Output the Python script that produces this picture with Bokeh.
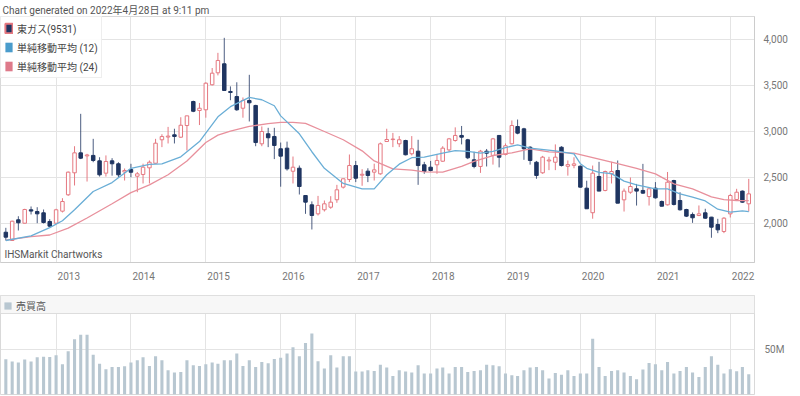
import pandas as pd
from datetime import datetime, timedelta
from bokeh.plotting import figure
from bokeh.layouts import column
from bokeh.models import (ColumnDataSource, Range1d, FixedTicker, NumeralTickFormatter,
                          DatetimeTickFormatter, Legend, LegendItem, Label, BoxAnnotation,
                          PrintfTickFormatter)
from bokeh.embed import file_html
from bokeh.resources import INLINE

# ---------------- data (monthly, May 2012 - Apr 2022) ----------------
first_month = "2012-05-01"

opens = [
    1905, 1815, 2040, 2003, 2149, 2130, 2116, 2022, 2003, 2134,
    2312, 2551, 2768, 2735, 2740, 2681, 2547, 2681, 2649, 2560,
    2587, 2514, 2533, 2605, 2655, 2910, 2940, 2964, 2938, 3065,
    3326, 3228, 3236, 3508, 3638, 3736, 3435, 3380, 3253, 3337,
    3283, 2866, 2975, 2946, 2812, 2819, 2568, 2601, 2304, 2203,
    2105, 2149, 2177, 2258, 2395, 2478, 2630, 2525, 2569, 2558,
    2540, 2891, 2912, 2866, 2902, 2758, 2786, 2638, 2612, 2638,
    2677, 2800, 2902, 2957, 2910, 2692, 2620, 2786, 2740, 2957,
    2750, 2866, 3054, 3029, 2829, 2666, 2551, 2680, 2666, 2829,
    2622, 2632, 2623, 2384, 2117, 2511, 2359, 2540, 2576, 2257,
    2340, 2377, 2359, 2293, 2384, 2239, 2203, 2467, 2250, 2152,
    2098, 2087, 2116, 2069, 1989, 1913, 2105, 2261, 2352, 2214]

highs = [
    1953, 2030, 2079, 2160, 2185, 2177, 2152, 2047, 2160, 2275,
    2565, 2840, 3192, 2757, 2920, 2720, 2740, 2710, 2666, 2598,
    2649, 2560, 2650, 2685, 2920, 2970, 3050, 3030, 3155, 3170,
    3335, 3310, 3535, 3690, 3855, 4018, 3490, 3535, 3370, 3616,
    3290, 3055, 3040, 3040, 2880, 2890, 2728, 2630, 2304, 2240,
    2300, 2250, 2297, 2420, 2490, 2750, 2680, 2590, 2600, 2650,
    2880, 3030, 2985, 2950, 2910, 2950, 2910, 2670, 2680, 2750,
    2840, 2930, 3045, 3060, 2920, 2780, 2800, 2810, 2930, 2960,
    2870, 3120, 3130, 3040, 2840, 2680, 2735, 2725, 2860, 2840,
    2685, 2720, 2630, 2465, 2630, 2670, 2575, 2670, 2685, 2380,
    2500, 2430, 2648, 2380, 2450, 2250, 2560, 2475, 2340, 2160,
    2120, 2196, 2160, 2072, 2051, 2069, 2322, 2377, 2359, 2485]

lows = [
    1815, 1810, 1924, 2000, 2098, 2003, 2000, 1960, 2000, 2120,
    2300, 2413, 2700, 2456, 2666, 2510, 2510, 2520, 2500, 2467,
    2503, 2340, 2435, 2435, 2650, 2830, 2870, 2870, 2930, 2793,
    3210, 3070, 3150, 3500, 3610, 3446, 3340, 3225, 3150, 3109,
    2840, 2840, 2830, 2700, 2400, 2575, 2435, 2315, 2105, 1935,
    2087, 2130, 2160, 2225, 2380, 2450, 2450, 2410, 2450, 2467,
    2530, 2890, 2830, 2830, 2740, 2740, 2420, 2540, 2565, 2540,
    2670, 2780, 2890, 2860, 2700, 2600, 2550, 2620, 2640, 2610,
    2740, 2860, 2970, 2692, 2640, 2486, 2540, 2580, 2580, 2620,
    2520, 2600, 2390, 2160, 2052, 2352, 2350, 2435, 2221, 2130,
    2323, 2195, 2323, 2195, 2270, 2185, 2196, 2196, 2140, 2070,
    2007, 2080, 2050, 1845, 1895, 1895, 2065, 2250, 2225, 2130]

closes = [
    1851, 2025, 2008, 2152, 2135, 2105, 2011, 1971, 2149, 2239,
    2558, 2768, 2710, 2745, 2685, 2529, 2674, 2649, 2529, 2576,
    2557, 2540, 2612, 2666, 2873, 2945, 2950, 2946, 3068, 3170,
    3220, 3253, 3525, 3634, 3772, 3446, 3424, 3236, 3337, 3312,
    2880, 3000, 2932, 2848, 2732, 2594, 2612, 2402, 2232, 2087,
    2196, 2214, 2232, 2366, 2486, 2630, 2492, 2535, 2522, 2583,
    2866, 2913, 2918, 2910, 2747, 2812, 2630, 2565, 2576, 2685,
    2819, 2920, 2957, 2938, 2714, 2620, 2786, 2764, 2920, 2720,
    2845, 3065, 2982, 2812, 2685, 2522, 2721, 2690, 2721, 2630,
    2640, 2648, 2395, 2160, 2547, 2352, 2565, 2565, 2221, 2352,
    2402, 2352, 2330, 2377, 2279, 2188, 2449, 2207, 2149, 2080,
    2062, 2105, 2058, 1960, 1931, 2058, 2304, 2340, 2232, 2322]

# trading volume, millions of shares
volumes = [
    39.3, 36.7, 35.6, 38.9, 36.7, 41.5, 42.2, 41.9, 43.7, 33.7,
    48.1, 61.5, 66.7, 66.7, 44.4, 34.4, 28.1, 30.7, 30.7, 31.5,
    35.6, 38.1, 41.5, 31.9, 42.6, 38.1, 27.0, 24.4, 25.2, 38.1,
    32.6, 31.9, 33.7, 35.6, 34.4, 38.1, 38.1, 45.6, 31.9, 38.1,
    30.7, 36.3, 34.8, 39.6, 41.1, 45.6, 52.6, 42.6, 57.4, 68.1,
    37.0, 28.9, 43.7, 30.0, 42.6, 42.6, 25.6, 25.6, 27.0, 26.3,
    33.3, 30.0, 20.7, 27.0, 25.6, 24.4, 32.6, 23.3, 23.3, 28.9,
    30.0, 23.3, 30.7, 30.7, 25.2, 26.3, 27.0, 33.3, 32.6, 31.5,
    23.3, 21.5, 20.7, 27.0, 30.0, 30.7, 27.0, 17.8, 24.1, 21.9,
    27.0, 20.7, 23.3, 23.3, 62.2, 30.7, 20.7, 26.3, 27.0, 24.4,
    20.7, 17.0, 27.8, 35.2, 33.7, 27.0, 36.3, 23.3, 26.3, 30.7,
    24.4, 19.6, 30.7, 42.6, 33.3, 23.3, 28.1, 25.9, 30.7, 22.6]

# simple moving averages
sma12_months = ["2012-05", "2012-09", "2012-12", "2013-02", "2013-04", "2013-07", "2013-10",
                "2014-01", "2014-04", "2014-06", "2014-09", "2014-12", "2015-03", "2015-05",
                "2015-08", "2015-10", "2015-12", "2016-01", "2016-04", "2016-06", "2016-08",
                "2016-11", "2017-02", "2017-04", "2017-06", "2017-08", "2017-10", "2017-12",
                "2018-03", "2018-05", "2018-07", "2018-09", "2018-11", "2019-01", "2019-03",
                "2019-05", "2019-09", "2019-12", "2020-01", "2020-02", "2020-04", "2020-06",
                "2020-08", "2020-10", "2021-01", "2021-03", "2021-05", "2021-07", "2021-09",
                "2021-11", "2022-01", "2022-03", "2022-04"]
sma12_values = [1815, 1865, 1955, 2030, 2150, 2348, 2445,
                2600, 2643, 2649, 2725, 2890, 3160, 3270,
                3370, 3345, 3280, 3170, 2975, 2780, 2600,
                2435, 2377, 2377, 2530, 2645, 2715, 2721,
                2765, 2792, 2783, 2764, 2785, 2825, 2855,
                2820, 2790, 2757, 2650, 2600, 2555, 2542,
                2460, 2420, 2377, 2377, 2323, 2286, 2245,
                2155, 2123, 2138, 2130]

sma24_months = ["2012-05", "2012-09", "2012-12", "2013-03", "2013-06", "2013-10", "2014-01",
                "2014-04", "2014-07", "2014-10", "2015-01", "2015-03", "2015-05", "2015-08",
                "2015-11", "2016-01", "2016-03", "2016-05", "2016-08", "2016-11", "2017-02",
                "2017-04", "2017-07", "2017-10", "2017-12", "2018-03", "2018-06", "2018-08",
                "2018-11", "2019-02", "2019-05", "2019-08", "2019-12", "2020-04", "2020-07",
                "2020-10", "2021-01", "2021-04", "2021-07", "2021-10", "2021-12", "2022-02",
                "2022-04"]
sma24_values = [1820, 1858, 1875, 1950, 2060, 2215, 2335,
                2420, 2530, 2680, 2880, 2960, 3005, 3055,
                3085, 3100, 3100, 3088, 3000, 2910, 2790,
                2680, 2594, 2580, 2560, 2558, 2620, 2675,
                2739, 2768, 2810, 2778, 2765, 2700, 2650,
                2600, 2540, 2430, 2377, 2290, 2260, 2250,
                2248]

price_ticks = [2000, 2500, 3000, 3500, 4000]
year_labels = [2013, 2014, 2015, 2016, 2017, 2018, 2019, 2020, 2021, 2022]
volume_ticks = [50]

# ---------------- styling ----------------
FONT = "Roboto, 'Noto Sans CJK JP', sans-serif"
UP = "#e57880"
DOWN = "#1f3561"
BLUE = "#6aaed6"
PINK = "#e8909c"
VOLC = "#b8c7d1"
GRID = "#e4e4e4"
FRAME = "#d9d9d9"
FS = "10px"
DAY_MS = 24 * 3600 * 1000

months = pd.date_range(first_month, periods=len(closes), freq="MS")
df = pd.DataFrame(dict(date=months, open=opens, high=highs, low=lows, close=closes, vol=volumes))
df["top"] = df[["open", "close"]].max(axis=1)
df["bottom"] = df[["open", "close"]].min(axis=1)
all_src = ColumnDataSource(df)
up_src = ColumnDataSource(df[df.close >= df.open])
dn_src = ColumnDataSource(df[df.close < df.open])


def ms(ts):
    return pd.Timestamp(ts).value // 10**6


year_ms = [ms(datetime(y, 1, 1)) for y in year_labels]
label_ms = [ms(datetime(y, 1, 1) + timedelta(days=62)) for y in year_labels]

xr = Range1d(start=datetime(2012, 4, 5), end=datetime(2022, 4, 29))

# ---------------- main price panel ----------------
p = figure(frame_width=754, frame_height=246, x_axis_type="datetime", y_axis_location="right",
           x_range=xr, y_range=Range1d(1576, 4250), output_backend="svg", toolbar_location=None,
           min_border_left=0, min_border_right=46, min_border_top=16, min_border_bottom=33)
p.title.text = "Chart generated on 2022年4月28日 at 9:11 pm"
p.title.align = "left"
p.title.text_font = FONT
p.title.text_font_size = FS
p.title.text_font_style = "normal"
p.title.text_color = "#555555"
p.title.standoff = 2
p.title.offset = 2
p.outline_line_color = FRAME
p.background_fill_color = "white"
p.border_fill_color = "white"

p.xgrid.ticker = FixedTicker(ticks=year_ms)
p.ygrid.ticker = FixedTicker(ticks=price_ticks)
p.grid.grid_line_color = GRID

p.xaxis.ticker = FixedTicker(ticks=label_ms)
p.xaxis.formatter = DatetimeTickFormatter(years="%Y", months="%Y", days="%Y", hours="%Y")
p.yaxis.ticker = FixedTicker(ticks=price_ticks)
p.yaxis.formatter = NumeralTickFormatter(format="0,0")
for ax in (p.xaxis[0], p.yaxis[0]):
    ax.major_tick_line_color = None
    ax.minor_tick_line_color = None
    ax.axis_line_color = "#cccccc"
    ax.major_label_text_font = FONT
    ax.major_label_text_font_size = FS
    ax.major_label_text_color = "#777777"
p.xaxis.major_label_standoff = 3
p.yaxis.major_label_standoff = 3

bw = 17 * DAY_MS
p.segment(x0="date", y0="high", x1="date", y1="low", source=up_src, line_color=UP, line_width=1)
p.segment(x0="date", y0="high", x1="date", y1="low", source=dn_src, line_color=DOWN, line_width=1,
          line_alpha=0.8)
p.vbar(x="date", width=bw, top="top", bottom="bottom", source=up_src, fill_color="white",
       line_color=UP, line_width=1)
p.vbar(x="date", width=bw, top="top", bottom="bottom", source=dn_src, fill_color=DOWN,
       line_color=DOWN, line_width=1)

p.line(pd.to_datetime(sma24_months), sma24_values, line_color=PINK, line_width=1.3)
p.line(pd.to_datetime(sma12_months), sma12_values, line_color=BLUE, line_width=1.3)

# zero-size glyphs that only supply square legend icons
icon_stock = p.rect(x="date", y="close", width=0, height=0, source=all_src, fill_color=DOWN,
                    line_color=UP, line_width=2)
icon_12 = p.rect(x="date", y="close", width=0, height=0, source=all_src, fill_color="#4a9ccc",
                 line_color=None)
icon_24 = p.rect(x="date", y="close", width=0, height=0, source=all_src, fill_color="#de7a8a",
                 line_color=None)

legend = Legend(items=[LegendItem(label="東ガス(9531)", renderers=[icon_stock]),
                       LegendItem(label="単純移動平均 (12)", renderers=[icon_12]),
                       LegendItem(label="単純移動平均 (24)", renderers=[icon_24])],
                location="top_left", margin=0, padding=3, spacing=3,
                glyph_width=9, glyph_height=12, label_height=16, label_standoff=4,
                label_text_font=FONT, label_text_font_size=FS, label_text_color="#444444",
                background_fill_color="white", background_fill_alpha=0.9,
                border_line_color="#dddddd")
p.add_layout(legend)

p.add_layout(Label(x=4, y=3, x_units="screen", y_units="screen", text="IHSMarkit Chartworks",
                   text_font=FONT, text_font_size=FS, text_color="#555555",
                   text_baseline="bottom"))

# ---------------- volume panel ----------------
v = figure(frame_width=754, frame_height=99, x_axis_type="datetime", x_axis_location=None,
           y_axis_location="right", x_range=xr, y_range=Range1d(0, 110.4),
           output_backend="svg", toolbar_location=None,
           min_border_left=0, min_border_right=46, min_border_top=0, min_border_bottom=2)
v.outline_line_color = FRAME
v.xgrid.ticker = FixedTicker(ticks=year_ms)
v.ygrid.ticker = FixedTicker(ticks=volume_ticks)
v.grid.grid_line_color = GRID
v.yaxis.ticker = FixedTicker(ticks=volume_ticks)
v.yaxis.formatter = PrintfTickFormatter(format="%dM")
v.yaxis.major_tick_line_color = None
v.yaxis.minor_tick_line_color = None
v.yaxis.axis_line_color = None
v.yaxis.major_label_standoff = 4
v.yaxis.major_label_text_font = FONT
v.yaxis.major_label_text_font_size = FS
v.yaxis.major_label_text_color = "#777777"

vbars = v.vbar(x="date", width=15 * DAY_MS, top="vol", bottom=0, source=all_src,
               fill_color=VOLC, line_color=None)
v.add_layout(BoxAnnotation(bottom=90.3, fill_color="#f7f7f7", fill_alpha=1,
                           line_color="#dddddd", line_alpha=1))
vleg = Legend(items=[LegendItem(label="売買高", renderers=[vbars])], location="top_left",
              margin=3, padding=1, glyph_width=9, glyph_height=9, label_height=12,
              label_standoff=4, label_text_font=FONT, label_text_font_size=FS,
              label_text_color="#555555", background_fill_alpha=0, border_line_color=None)
v.add_layout(vleg)

layout = column(p, v, spacing=0)
open("out.html", "w").write(file_html(layout, INLINE))
